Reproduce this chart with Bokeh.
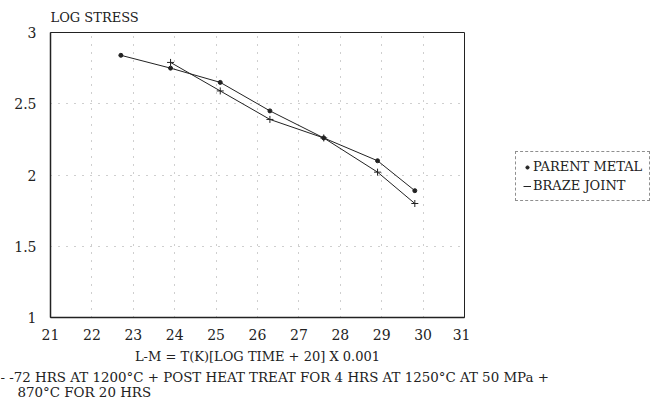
from bokeh.plotting import figure
from bokeh.layouts import row, column
from bokeh.models import Legend, LegendItem, Title, Label, FixedTicker
from bokeh.embed import file_html
from bokeh.resources import INLINE

# Data
lm_parent = [22.7, 23.9, 25.1, 26.3, 27.6, 28.9, 29.8]
stress_parent = [2.84, 2.75, 2.65, 2.45, 2.26, 2.10, 1.89]
lm_braze = [23.9, 25.1, 26.3, 27.6, 28.9, 29.8]
stress_braze = [2.79, 2.59, 2.39, 2.26, 2.02, 1.80]
x_ticks = [21, 22, 23, 24, 25, 26, 27, 28, 29, 30, 31]
y_ticks = [1, 1.5, 2, 2.5, 3]
series_names = ["PARENT METAL", "BRAZE JOINT"]
caption_lines = ["- -72 HRS AT 1200°C + POST HEAT TREAT FOR 4 HRS AT 1250°C AT 50 MPa +",
                 "870°C FOR 20 HRS"]

FONT = "DejaVu Serif"
INK = "#222222"
TOP_H = 366

p = figure(width=470, height=TOP_H, output_backend="svg", toolbar_location=None,
           x_range=(21, 31), y_range=(1, 3),
           min_border_left=50, min_border_right=6,
           min_border_top=5, min_border_bottom=48)

p.background_fill_color = "white"
p.border_fill_color = "white"
p.outline_line_color = INK
p.outline_line_width = 1

for ax in (p.xaxis, p.yaxis):
    ax.major_tick_line_color = None
    ax.minor_tick_line_color = None
    ax.axis_line_color = INK
    ax.axis_line_width = 1.5
    ax.major_label_text_font = FONT
    ax.major_label_text_font_size = "14px"
    ax.major_label_text_color = INK
p.yaxis.major_label_standoff = 8
p.xaxis.major_label_standoff = 5

p.xaxis.ticker = FixedTicker(ticks=x_ticks)
p.yaxis.ticker = FixedTicker(ticks=y_ticks)
p.yaxis.major_label_overrides = {1: "1", 1.5: "1.5", 2: "2", 2.5: "2.5", 3: "3"}

p.xaxis.axis_label = "L-M = T(K)[LOG TIME + 20] X 0.001"
p.xaxis.axis_label_text_font = FONT
p.xaxis.axis_label_text_font_size = "13px"
p.xaxis.axis_label_text_font_style = "normal"
p.xaxis.axis_label_text_color = INK
p.xaxis.axis_label_standoff = 6

p.xgrid.ticker = FixedTicker(ticks=x_ticks[1:-1])
p.ygrid.ticker = FixedTicker(ticks=[1.5, 2, 2.5])
for g in (p.xgrid, p.ygrid):
    g.grid_line_color = "#888888"
    g.grid_line_dash = "1 7"
    g.grid_line_alpha = 0.8

p.line(lm_parent, stress_parent, line_color=INK, line_width=1)
p.scatter(lm_parent, stress_parent, marker="circle", size=4,
          fill_color=INK, line_color=INK)
p.line(lm_braze, stress_braze, line_color=INK, line_width=1)
p.scatter(lm_braze, stress_braze, marker="cross", size=7,
          line_color=INK, line_width=1)

p.add_layout(Title(text="LOG STRESS", align="left", offset=0, standoff=15,
                   text_font=FONT, text_font_size="13px",
                   text_font_style="normal", text_color=INK), "above")

# Legend panel at the right (its frame is aligned with the main frame)
q = figure(width=180, height=TOP_H, output_backend="svg", toolbar_location=None,
           x_range=(0, 1), y_range=(0, 1), x_axis_type=None, y_axis_type=None,
           min_border_left=0, min_border_top=5, min_border_right=0,
           min_border_bottom=48)
q.outline_line_color = None
q.background_fill_color = "white"
q.border_fill_color = "white"
q.grid.visible = False
# series drawn outside this panel's view; used only for the legend icons
qm = q.scatter(lm_parent, stress_parent, marker="circle", size=4,
               fill_color=INK, line_color=INK)
ql = q.line(lm_braze, stress_braze, line_color=INK, line_width=1)

legend = Legend(items=[LegendItem(label=series_names[0], renderers=[qm]),
                       LegendItem(label=series_names[1], renderers=[ql])],
                location=(45, 116))
legend.border_line_color = INK
legend.border_line_dash = "4 2"
legend.border_line_width = 1
legend.background_fill_color = "white"
legend.background_fill_alpha = 1
legend.label_text_font = FONT
legend.label_text_font_size = "13px"
legend.label_text_color = INK
legend.glyph_width = 8
legend.glyph_height = 14
legend.label_height = 14
legend.label_standoff = 2
legend.spacing = 4
legend.padding = 7
legend.margin = 0
q.add_layout(legend)

# Caption strip below
CAP_H = 413 - TOP_H
c = figure(width=650, height=CAP_H, output_backend="svg", toolbar_location=None,
           x_range=(0, 650), y_range=(CAP_H, 0), x_axis_type=None,
           y_axis_type=None, min_border=0, min_border_left=0,
           min_border_right=0, min_border_top=0, min_border_bottom=0)
c.outline_line_color = None
c.background_fill_color = "white"
c.border_fill_color = "white"
c.grid.visible = False
c.add_layout(Label(x=0, y=11, text=caption_lines[0], text_font=FONT,
                   text_font_size="13.4px", text_color=INK,
                   text_baseline="middle", text_align="left"))
c.add_layout(Label(x=17, y=26, text=caption_lines[1], text_font=FONT,
                   text_font_size="13.4px", text_color=INK,
                   text_baseline="middle", text_align="left"))

layout = column(row(p, q, spacing=0), c, spacing=0)
open("out.html", "w").write(file_html(layout, INLINE))
